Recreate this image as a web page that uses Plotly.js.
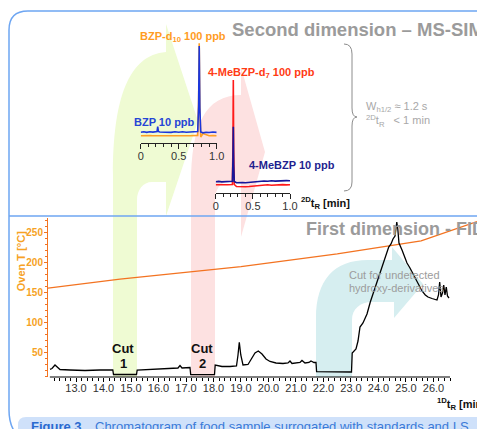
<!DOCTYPE html>
<html><head><meta charset="utf-8">
<script src="https://cdn.plot.ly/plotly-3.0.1.min.js"></script>
<style>html,body{margin:0;padding:0;background:#fff;}#chart{width:477px;height:429px;}</style>
</head><body><div id="chart"></div>
<script>
const W = 477, H = 429;
const FONT = "Liberation Sans, Arial, sans-serif";

// ---------- First dimension (FID) ----------
const fidTime = [12.055,12.127,12.236,12.309,12.418,12.782,13.327,13.873,14.338,14.364,14.782,15.2,15.225,15.691,16.055,16.418,16.709,16.782,16.855,17.145,17.171,17.618,18.036,18.062,18.309,18.6,18.836,18.891,18.938,18.993,19.073,19.255,19.4,19.509,19.629,19.764,19.909,20.055,20.273,20.527,20.709,20.782,20.855,21.036,21.145,21.218,21.327,21.473,21.545,21.655,21.727,21.749,22.418,23.018,23.044,23.182,23.255,23.327,23.436,23.582,23.702,23.836,23.945,24.055,24.189,24.273,24.371,24.455,24.527,24.6,24.636,24.665,24.702,24.745,24.855,24.927,24.975,25.036,25.145,25.218,25.327,25.462,25.582,25.702,25.8,25.945,26.055,26.127,26.182,26.225,26.273,26.327,26.371,26.418,26.465,26.509,26.564];
const fidSignal = [7.7,8.5,12,10,7.5,7,6.5,7,7,2.5,2.3,2.5,7,7.5,8,8.5,9,11.5,9,9.5,2.5,2.3,2.5,12,10.5,10.5,11,22,34.7,22,12,12.5,19,24,26,23,18,15.5,14,13.5,14,16,13.5,14,14.5,16.5,14,14.5,16,14.5,14.5,5.3,4.8,5,24,28,36,50,54,63,75,86,97,106,117,124,130,133,138,141,150,155,148,134,127,121,118,114,109,105,99,92,86,82,80,78.5,77.5,77,82,95,80,84,92,82,90,81,79];
const ovenTime = [11.98,14.6,19.0,22.5,25.55,27.58];
const ovenTemp = [157,172,193,214,236,268];
const xTickVals = [13,14,15,16,17,18,19,20,21,22,23,24,25,26];
const xTickText = ["13.0","14.0","15.0","16.0","17.0","18.0","19.0","20.0","21.0","22.0","23.0","24.0","25.0","26.0"];
const yTickVals = [50,100,150,200,250];

// ---------- Second dimension insets ----------
const inset2DTickVals = [0,0.5,1.0];
const inset2DTickText = ["0","0.5","1.0"];
const bzpTime = [0,0.04,0.08,0.12,0.16,0.2,0.215,0.224,0.233,0.25,0.3,0.35,0.4,0.45,0.5,0.55,0.6,0.65,0.7,0.75,0.762,0.77,0.778,0.79,0.82,0.86,0.9,0.95,1.0];
const bzpD10 = [0.2,0.5,0.1,0.4,0.2,0.3,0.4,0.5,0.3,0.2,0.1,0.4,0.2,0.3,0.1,0.4,0.2,0.3,0.2,0.6,35,92.7,30,-1,2.5,1,0.2,0.4,0.2];
const bzp10 = [3.8,4.2,3.6,4.3,3.9,4.2,4.4,9.3,4.5,4.0,3.7,4.1,3.6,4.2,3.8,4.3,3.7,4.0,4.2,4.5,30,90,28,4.0,3.2,3.8,3.5,4.0,3.6];
const meTime = [0,0.04,0.08,0.12,0.16,0.2,0.225,0.232,0.237,0.242,0.25,0.28,0.32,0.36,0.4,0.45,0.5,0.55,0.6,0.65,0.7,0.75,0.8,0.85,0.9,0.95,1.0];
const meBZPd7 = [0.3,0.1,0.4,0.2,0.3,0.1,0.5,40,105,35,0.5,-1.5,-1.8,-1.4,-1.7,-1.5,-1.2,-1.0,-0.5,0,0.3,-0.2,0.2,0,0.4,0.1,0.3];
const meBZP10 = [3.3,3.6,3.1,3.5,3.2,3.6,3.8,25,58.3,20,3.5,2.3,2.0,2.4,2.2,2.6,2.9,3.4,3.8,4.0,3.7,4.2,3.9,4.3,4.0,4.4,4.2];

// ---------- helpers ----------
const px = x => x / W;
const py = y => 1 - y / H;
function toPaper(tokens) {
  const out = []; let isX = true;
  for (const t of tokens) {
    if (typeof t === 'string') { out.push(t); isX = true; }
    else { out.push(isX ? (t / W).toFixed(5) : (1 - t / H).toFixed(5)); isX = !isX; }
  }
  return out.join(' ');
}
function ann(text, x, y, size, color, opts) {
  return Object.assign({
    xref: 'paper', yref: 'paper', x: px(x), y: py(y), text: text, showarrow: false,
    xanchor: 'center', yanchor: 'middle', font: {family: FONT, size: size, color: color}
  }, opts || {});
}

const minorX = [];
for (let i = 61; i <= 133; i++) { if (i % 5 !== 0) minorX.push(i / 5); }
const minorY = [];
for (let v = 10; v <= 270; v += 10) { if (v % 50 !== 0) minorY.push(v); }
const minorInset = [0.1,0.2,0.3,0.4,0.6,0.7,0.8,0.9];

const ORANGE_LINE = '#f37321';
const ORANGE_TXT = '#f6a224';

const traces = [
  {x: ovenTime, y: ovenTemp, xaxis: 'x', yaxis: 'y', mode: 'lines', line: {color: ORANGE_LINE, width: 1.3}, hoverinfo: 'skip'},
  {x: fidTime, y: fidSignal, xaxis: 'x', yaxis: 'y2', mode: 'lines', line: {color: '#000', width: 1.3}, hoverinfo: 'skip'},
  {x: bzpTime, y: bzpD10, xaxis: 'x2', yaxis: 'y3', mode: 'lines', line: {color: '#ffa024', width: 1.6}, hoverinfo: 'skip'},
  {x: bzpTime, y: bzp10, xaxis: 'x2', yaxis: 'y3', mode: 'lines', line: {color: '#1b36dc', width: 1.6}, hoverinfo: 'skip'},
  {x: meTime, y: meBZPd7, xaxis: 'x3', yaxis: 'y4', mode: 'lines', line: {color: '#ff1a1a', width: 1.6}, hoverinfo: 'skip'},
  {x: meTime, y: meBZP10, xaxis: 'x3', yaxis: 'y4', mode: 'lines', line: {color: '#16169a', width: 1.6}, hoverinfo: 'skip'}
];

const insetX = (dom, anchor) => ({
  domain: dom, range: [0, 1], anchor: anchor, tickmode: 'array', tickvals: inset2DTickVals, ticktext: inset2DTickText,
  ticks: 'outside', ticklen: 5, tickwidth: 1, tickcolor: '#222', showline: true, linecolor: '#222', linewidth: 1,
  ticklabelstandoff: -2,
  minor: {tickmode: 'array', tickvals: minorInset, ticks: 'outside', ticklen: 3, tickwidth: 1, tickcolor: '#222'},
  tickfont: {family: FONT, size: 11, color: '#333'}, showgrid: false, zeroline: false, fixedrange: true
});

const shapes = [
  // green curved arrow (Cut 1)
  {type: 'path', xref: 'paper', yref: 'paper', layer: 'below', fillcolor: '#effbd3', line: {width: 0},
   path: toPaper(['M',113,377,'L',113,175,'C',113,100,128,55,166,52,'L',166,24,'L',198,121,'L',166,216,'L',166,182,'L',152,182,'C',143,182,137,190,137,200,'L',137,377,'Z'])},
  // pink curved arrow (Cut 2)
  {type: 'path', xref: 'paper', yref: 'paper', layer: 'below', fillcolor: '#fde1e1', line: {width: 0},
   path: toPaper(['M',191,377,'L',191,185,'C',191,125,205,95,241,95,'L',241,67,'L',265,152,'L',241,237,'L',241,182,'L',228,182,'C',220,182,215,190,215,200,'L',215,377,'Z'])},
  // teal bent arrow (cut for hydroxy-derivatives)
  {type: 'path', xref: 'paper', yref: 'paper', layer: 'below', fillcolor: '#d6eef0', line: {width: 0},
   path: toPaper(['M',316,377,'L',316,318,'C',316,280,334,260,368,260,'L',392,260,'L',392,247,'L',423,284,'L',394,318,'L',394,302,'L',372,302,'C',360,302,352,309,352,320,'L',352,377,'Z'])},
  // main x axis line
  {type: 'line', xref: 'x', yref: 'paper', x0: 12.05, x1: 26.6, y0: py(377), y1: py(377), line: {color: '#000', width: 1}},
  // brace
  {type: 'path', xref: 'paper', yref: 'paper', fillcolor: 'rgba(0,0,0,0)', line: {color: '#8c8c8c', width: 1},
   path: toPaper(['M',344,44,'Q',352,44,352,54,'L',352,108,'Q',352,117,357,117,'Q',352,117,352,126,'L',352,182,'Q',352,191,344,191])},
  // panel border
  {type: 'path', xref: 'paper', yref: 'paper', fillcolor: 'rgba(0,0,0,0)', line: {color: '#6ea6f2', width: 1.5},
   path: toPaper(['M',24,440,'Q',9,432,9,410,'L',9,30,'Q',9,11,28,11,'L',490,11])},
  {type: 'line', xref: 'paper', yref: 'paper', x0: px(9), x1: 1.02, y0: py(216), y1: py(216), line: {color: '#6ea6f2', width: 1.5}},
  // caption band
  {type: 'path', xref: 'paper', yref: 'paper', fillcolor: '#cfe1fa', line: {width: 0},
   path: toPaper(['M',18,440,'L',18,425,'Q',18,417,26,417,'L',485,417,'L',485,440,'Z'])}
];

const annotations = [
  ann('<b>Second dimension – MS-SIM</b>', 230, 30, 18.5, '#9b9b9b', {xanchor: 'left'}),
  ann('<b>First dimension - FID</b>', 304, 228.5, 18, '#9b9b9b', {xanchor: 'left'}),
  ann('<b>BZP-d<sub>10</sub> 100 ppb</b>', 182.5, 37, 11, '#ff9c1f'),
  ann('<b>BZP 10 ppb</b>', 164.5, 122.5, 11, '#2545d6'),
  ann('<b>4-MeBZP-d<sub>7</sub> 100 ppb</b>', 261.5, 73, 11, '#ff3b14'),
  ann('<b>4-MeBZP 10 ppb</b>', 292, 165, 11, '#1f1f8f'),
  ann('<b><sup>2D</sup>t<sub>R</sub> [min]</b>', 298.7, 203, 11, '#111', {xanchor: 'left'}),
  ann('W<sub>h1/2</sub> ≈ 1.2 s<br><sup>2D</sup>t<sub>R</sub>\u00a0\u00a0\u00a0&lt; 1 min', 363.7, 114, 11, '#a8a8a8', {xanchor: 'left', align: 'left'}),
  ann('<b>Cut</b>', 122.7, 348.5, 13, '#111'),
  ann('<b>1</b>', 123.5, 363.5, 13, '#111'),
  ann('<b>Cut</b>', 201.7, 348.5, 13, '#111'),
  ann('<b>2</b>', 202.5, 363.5, 13, '#111'),
  ann('Cut for undetected', 347, 274.5, 11, '#9c9c9c', {xanchor: 'left'}),
  ann('hydroxy-derivatives', 347, 288, 11, '#9c9c9c', {xanchor: 'left'}),
  ann('<b>Oven T [°C]</b>', 20.5, 261.7, 11, ORANGE_TXT, {textangle: -90}),
  ann('<b><sup>1D</sup>t<sub>R</sub> [min]</b>', 435, 404, 11, '#111', {xanchor: 'left'}),
  ann('<b>Figure 3</b>', 29, 426.5, 13, '#2a6ad0', {xanchor: 'left'}),
  ann('Chromatogram of food sample surrogated with standards and I.S', 93, 426.5, 13, '#3a7ad8', {xanchor: 'left'})
];

const layout = {
  width: W, height: H, margin: {l: 0, r: 0, t: 0, b: 0},
  paper_bgcolor: '#fff', plot_bgcolor: 'rgba(0,0,0,0)', showlegend: false,
  font: {family: FONT},
  xaxis: {
    domain: [px(48), 1], range: [11.982, 27.582], anchor: 'y',
    tickmode: 'array', tickvals: xTickVals, ticktext: xTickText,
    ticks: 'outside', ticklen: 4, tickwidth: 1, tickcolor: '#000', showline: false,
    ticklabelstandoff: -3,
    minor: {tickmode: 'array', tickvals: minorX, ticks: 'outside', ticklen: 2.5, tickwidth: 1, tickcolor: '#000'},
    tickfont: {family: FONT, size: 11, color: '#333'}, showgrid: false, zeroline: false, fixedrange: true
  },
  yaxis: {
    domain: [py(377), py(218)], range: [8.8, 274], anchor: 'x',
    tickmode: 'array', tickvals: yTickVals,
    ticks: 'outside', ticklen: 3, tickwidth: 1, tickcolor: ORANGE_LINE,
    showline: true, linecolor: ORANGE_LINE, linewidth: 1,
    ticklabelstandoff: -1,
    minor: {tickmode: 'array', tickvals: minorY, ticks: 'outside', ticklen: 2, tickwidth: 1, tickcolor: ORANGE_LINE},
    tickfont: {family: FONT, size: 10, color: ORANGE_TXT, weight: 'bold'}, showgrid: false, zeroline: false, fixedrange: true
  },
  yaxis2: {overlaying: 'y', anchor: 'x', range: [0, 159], visible: false, showgrid: false, zeroline: false, fixedrange: true},
  xaxis2: insetX([px(140.7), px(216.7)], 'y3'),
  yaxis3: {domain: [py(142.7), py(40)], range: [-6.7, 96], anchor: 'x2', visible: false, showgrid: false, zeroline: false, fixedrange: true},
  xaxis3: insetX([px(215.7), px(290)], 'y4'),
  yaxis4: {domain: [py(193), py(75)], range: [-8, 110], anchor: 'x3', visible: false, showgrid: false, zeroline: false, fixedrange: true},
  shapes: shapes,
  annotations: annotations
};

Plotly.newPlot('chart', traces, layout, {displayModeBar: false, staticPlot: true});
</script>
</body></html>
